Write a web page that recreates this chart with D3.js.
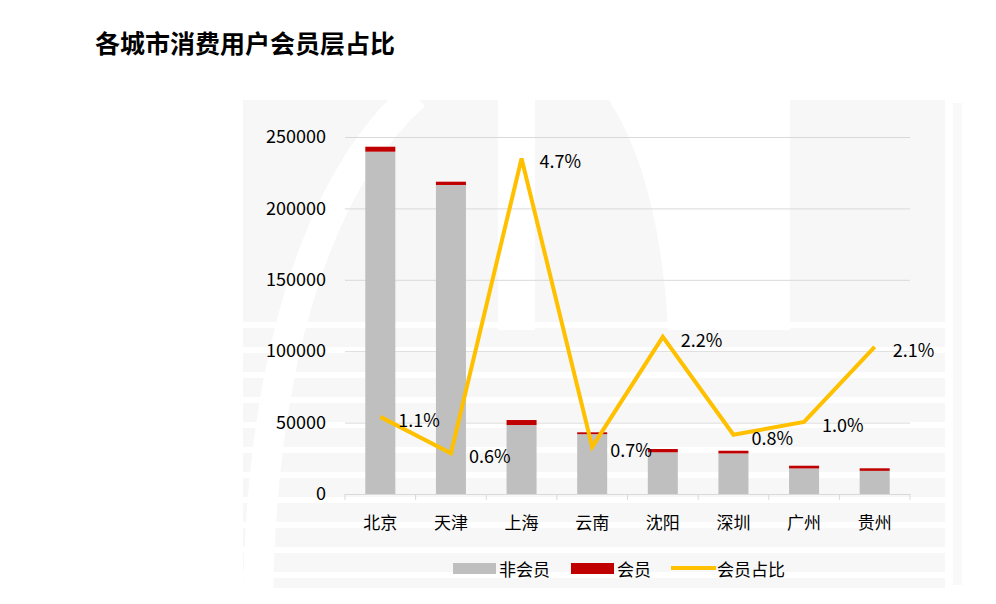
<!DOCTYPE html>
<html>
<head>
<meta charset="utf-8">
<script src="https://cdn.jsdelivr.net/npm/d3@7"></script>
<style>
  body { margin: 0; background: #fff; }
  text { font-family: "Noto Sans CJK SC", "Microsoft YaHei", sans-serif; }
</style>
</head>
<body>
<div id="chart"></div>
<script>
const cities = ['北京', '天津', '上海', '云南', '沈阳', '深圳', '广州', '贵州']
const nonMember = [239700, 216400, 48300, 41900, 29200, 28400, 17900, 16200]
const member = [3500, 2300, 3500, 1300, 2300, 1900, 1900, 1800]
const ratio = [0.0108, 0.0057, 0.047, 0.0066, 0.0220, 0.0083, 0.0101, 0.0206]
const yTicks = [0, 50000, 100000, 150000, 200000, 250000]
const legendNames = ['非会员', '会员', '会员占比']

const width = 996, height = 604
const padding = { top: 137, right: 86, bottom: 110, left: 345 }

const svg = d3.select('#chart')
    .append('svg')
    .attr('width', width)
    .attr('height', height)

// faint watermark in the back
const wm = svg.append('g').attr('fill', '#f7f7f7')
wm.append('rect').attr('x', 243).attr('y', 100).attr('width', 702).attr('height', 488)
wm.append('rect').attr('x', 953).attr('y', 103).attr('width', 9).attr('height', 482).attr('fill', '#f9f9f9')
// white arches over the gray
wm.append('path')
    .attr('d', 'M 258 600 C 262 330 330 170 415 95')
    .attr('fill', 'none').attr('stroke', '#fff').attr('stroke-width', 30)
wm.append('path')
    .attr('d', 'M 498 100 L 535 100 L 535 330 L 498 330 Z')
    .attr('fill', '#fff')
wm.append('path')
    .attr('d', 'M 609 100 Q 660 180 668 330 L 790 330 L 790 100 Z')
    .attr('fill', '#fff')
wm.append('path')
    .attr('d', 'M 834 330 L 834 200 Q 845 115 945 100 L 945 330 Z')
    .attr('fill', '#f7f7f7')
d3.range(322, 590, 25).forEach(y => {
    wm.append('rect').attr('x', 243).attr('y', y).attr('width', 702).attr('height', 6).attr('fill', '#fff')
})

const xScale = d3.scaleBand()
    .domain(cities)
    .range([padding.left, width - padding.right])
    .paddingInner(0.575)
    .paddingOuter(0.2875)
const yScale = d3.scaleLinear()
    .domain([0, 250000])
    .range([height - padding.bottom, padding.top])
const y2Scale = d3.scaleLinear()
    .domain([0, 0.05])
    .range([height - padding.bottom, padding.top])

// gridlines + y labels
const yAxis = d3.axisLeft(yScale)
    .tickValues(yTicks)
    .tickSize(-(width - padding.left - padding.right))
    .tickPadding(19)
    .tickFormat(d3.format('d'))
const gy = svg.append('g')
    .attr('transform', 'translate(' + padding.left + ',0)')
    .call(yAxis)
gy.select('.domain').remove()
gy.selectAll('line').attr('stroke', '#d9d9d9')
gy.selectAll('text')
    .attr('font-size', 18)
    .attr('fill', '#000')
    .style('font-family', '"Noto Sans CJK SC", sans-serif')

// x axis
const xAxis = d3.axisBottom(xScale).tickSize(0).tickPadding(23)
const gx = svg.append('g')
    .attr('transform', 'translate(0,' + (height - padding.bottom) + ')')
    .call(xAxis)
gx.select('.domain').attr('stroke', '#d9d9d9')
gx.selectAll('text')
    .attr('font-size', 17)
    .attr('fill', '#000')
    .style('font-family', '"Noto Sans CJK SC", sans-serif')
const step = xScale.step()
gx.selectAll('.sep')
    .data(d3.range(cities.length + 1))
    .enter()
    .append('line')
    .attr('x1', i => padding.left + i * step)
    .attr('x2', i => padding.left + i * step)
    .attr('y1', 0)
    .attr('y2', 6)
    .attr('stroke', '#d9d9d9')

// stacked bars
const bars = svg.append('g')
bars.selectAll('.non')
    .data(cities)
    .enter()
    .append('rect')
    .attr('x', d => xScale(d))
    .attr('width', xScale.bandwidth())
    .attr('y', (d, i) => yScale(nonMember[i]))
    .attr('height', (d, i) => yScale(0) - yScale(nonMember[i]))
    .attr('fill', '#bfbfbf')
bars.selectAll('.mem')
    .data(cities)
    .enter()
    .append('rect')
    .attr('x', d => xScale(d))
    .attr('width', xScale.bandwidth())
    .attr('y', (d, i) => yScale(nonMember[i] + member[i]))
    .attr('height', (d, i) => yScale(nonMember[i]) - yScale(nonMember[i] + member[i]))
    .attr('fill', '#c00000')

// ratio line
const linePath = d3.line()
    .x((d, i) => xScale(cities[i]) + xScale.bandwidth() / 2)
    .y(d => y2Scale(d))
svg.append('path')
    .datum(ratio)
    .attr('d', linePath)
    .attr('fill', 'none')
    .attr('stroke', '#ffc000')
    .attr('stroke-width', 4)
    .attr('stroke-linejoin', 'miter')

svg.append('g').selectAll('text')
    .data(ratio)
    .enter()
    .append('text')
    .attr('x', (d, i) => xScale(cities[i]) + xScale.bandwidth() / 2 + 18)
    .attr('y', d => y2Scale(d) + 2)
    .attr('dominant-baseline', 'central')
    .attr('font-size', 18)
    .attr('fill', '#000')
    .text(d3.format('.1%'))

// legend
const legend = svg.append('g').attr('transform', 'translate(0,568)')
legend.append('rect').attr('x', 453).attr('y', -5).attr('width', 43).attr('height', 11).attr('fill', '#bfbfbf')
legend.append('rect').attr('x', 571).attr('y', -5).attr('width', 43).attr('height', 11).attr('fill', '#c00000')
legend.append('line').attr('x1', 671).attr('x2', 716).attr('y1', 0).attr('y2', 0)
    .attr('stroke', '#ffc000').attr('stroke-width', 4)
legend.selectAll('.lt')
    .data(legendNames)
    .enter()
    .append('text')
    .attr('x', (d, i) => [499, 617, 717][i])
    .attr('y', 0)
    .attr('dominant-baseline', 'central')
    .attr('font-size', 17)
    .attr('fill', '#000')
    .text(d => d)

// title
svg.append('text')
    .attr('x', 95)
    .attr('y', 53)
    .attr('font-size', 25)
    .attr('font-weight', 'bold')
    .attr('fill', '#000')
    .text('各城市消费用户会员层占比')
</script>
</body>
</html>
